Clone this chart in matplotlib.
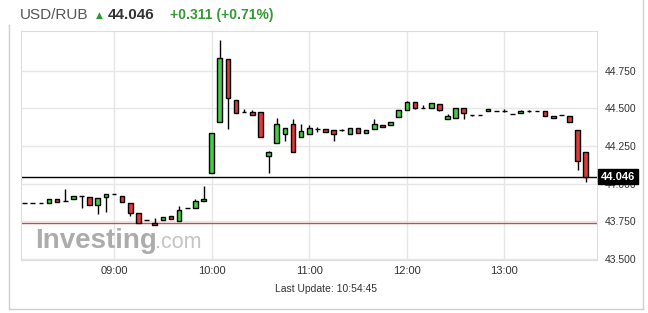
import numpy as np
import matplotlib
matplotlib.use("Agg")
import matplotlib.pyplot as plt
from matplotlib.lines import Line2D

plt.rcParams["font.family"] = ["Liberation Sans", "DejaVu Sans"]

# 5-minute candles, first one at 08:05
start_minute = -55  # minutes relative to 09:00
opens = [43.868, 43.868, 43.868, 43.870, 43.900, 43.885, 43.897, 43.919, 43.912, 43.857, 43.912,
         43.928, 43.919, 43.868, 43.801, 43.757, 43.739, 43.757, 43.784, 43.750, 43.835, 43.835, 43.884,
         44.072, 44.407, 44.825, 44.555, 44.473, 44.477, 44.477, 44.185, 44.267, 44.327, 44.394, 44.307,
         44.327, 44.360, 44.360, 44.356, 44.356, 44.330, 44.367, 44.334, 44.363, 44.391, 44.390, 44.444,
         44.489, 44.544, 44.500, 44.500, 44.527, 44.429, 44.438, 44.500, 44.455, 44.455, 44.482, 44.484,
         44.484, 44.464, 44.471, 44.482, 44.482, 44.482, 44.438, 44.455, 44.451, 44.356, 44.207]
closes = [43.868, 43.868, 43.868, 43.897, 43.877, 43.885, 43.919, 43.919, 43.857, 43.905, 43.928,
          43.928, 43.875, 43.801, 43.735, 43.757, 43.724, 43.779, 43.762, 43.824, 43.835, 43.884, 43.897,
          44.338, 44.832, 44.566, 44.467, 44.473, 44.453, 44.311, 44.210, 44.394, 44.367, 44.212, 44.350,
          44.371, 44.360, 44.340, 44.327, 44.356, 44.367, 44.334, 44.356, 44.394, 44.378, 44.407, 44.489,
          44.540, 44.504, 44.500, 44.533, 44.489, 44.449, 44.500, 44.467, 44.455, 44.455, 44.493, 44.484,
          44.484, 44.464, 44.484, 44.482, 44.482, 44.451, 44.451, 44.455, 44.411, 44.150, 44.046]
highs = [43.868, 43.868, 43.868, 43.897, 43.900, 43.963, 43.919, 43.919, 43.912, 43.905, 43.928,
         43.928, 43.919, 43.868, 43.801, 43.757, 43.772, 43.779, 43.784, 43.850, 43.835, 43.900, 43.983,
         44.338, 44.955, 44.825, 44.555, 44.495, 44.487, 44.477, 44.215, 44.434, 44.367, 44.427, 44.394,
         44.389, 44.378, 44.360, 44.356, 44.360, 44.367, 44.367, 44.356, 44.429, 44.391, 44.407, 44.489,
         44.550, 44.544, 44.520, 44.533, 44.527, 44.460, 44.500, 44.500, 44.455, 44.455, 44.493, 44.484,
         44.493, 44.464, 44.490, 44.489, 44.482, 44.482, 44.451, 44.458, 44.451, 44.356, 44.207]
lows = [43.868, 43.868, 43.868, 43.870, 43.877, 43.885, 43.897, 43.839, 43.857, 43.800, 43.808,
        43.928, 43.875, 43.785, 43.735, 43.757, 43.724, 43.757, 43.762, 43.750, 43.835, 43.835, 43.884,
        44.072, 44.407, 44.360, 44.467, 44.473, 44.453, 44.311, 44.068, 44.267, 44.283, 44.212, 44.307,
        44.327, 44.340, 44.340, 44.285, 44.350, 44.330, 44.334, 44.334, 44.363, 44.378, 44.390, 44.444,
        44.489, 44.497, 44.500, 44.500, 44.480, 44.429, 44.438, 44.429, 44.449, 44.455, 44.482, 44.484,
        44.475, 44.464, 44.471, 44.478, 44.482, 44.451, 44.438, 44.455, 44.411, 44.090, 44.008]

hour_labels = ["09:00", "10:00", "11:00", "12:00", "13:00"]
price_ticks = [43.500, 43.750, 44.000, 44.250, 44.500, 44.750]
last_price = 44.046
prev_close = 43.735

W, H = 648, 313
fig = plt.figure(figsize=(W / 100, H / 100), dpi=100)
fig.patch.set_facecolor("white")

# outer panel border (left side starts below the header)
border = "#cfcfcf"
fig.add_artist(Line2D([9 / W, 9 / W], [1 - 309 / H, 1 - 25 / H], transform=fig.transFigure,
                      color=border, lw=1))
fig.add_artist(Line2D([9 / W, 643 / W], [1 - 309 / H, 1 - 309 / H], transform=fig.transFigure,
                      color=border, lw=1))
fig.add_artist(Line2D([643 / W, 643 / W], [1 - 309 / H, 1.0], transform=fig.transFigure,
                      color=border, lw=1))

ax = fig.add_axes([21 / W, 1 - 260 / H, 575.5 / W, 229 / H])
ax.set_xlim(-57.2, 296.6)
ax.set_ylim(43.4914, 45.014)

x = start_minute + 5 * np.arange(len(opens))
o = np.array(opens)
c = np.array(closes)
up = c >= o
colors = np.where(up, "#44cc44", "#dd3a3a")

ax.vlines(x, lows, highs, color="black", lw=1, zorder=3)
ax.bar(x, np.abs(c - o), bottom=np.minimum(o, c), width=2.8, color=colors,
       edgecolor="black", linewidth=1.0, zorder=4)

ax.axhline(last_price, color="black", lw=1, zorder=2)
ax.axhline(prev_close, color="#c05050", lw=1, zorder=2)

ax.set_xticks(60 * np.arange(len(hour_labels)))
ax.set_xticklabels(hour_labels)
ax.set_yticks(price_ticks)
ax.set_yticklabels([f"{p:.3f}" for p in price_ticks])
ax.tick_params(axis="y", left=False, labelleft=False, right=False, labelright=True,
               length=0, pad=6, labelsize=7.5, labelcolor="#333333")
ax.tick_params(axis="x", length=0, pad=4, labelsize=8, labelcolor="#333333")
ax.grid(True, color="#e6e6e6", lw=1, zorder=0)
ax.set_axisbelow(True)
for s in ax.spines.values():
    s.set_color("#dddddd")

ax.annotate(f"{last_price:.3f}", xy=(1, last_price), xycoords=("axes fraction", "data"),
            xytext=(3, 0), textcoords="offset points", ha="left", va="center",
            color="white", fontsize=8, fontweight="bold", zorder=10,
            bbox=dict(boxstyle="square,pad=0.25", fc="black", ec="black"),
            annotation_clip=False)

# watermark
ax.text(35 / W, 1 - 248.5 / H, "Investing", transform=fig.transFigure, fontsize=20,
        fontweight="bold", color="#acacac", va="baseline", zorder=1)
ax.text(155 / W, 1 - 248.5 / H, ".com", transform=fig.transFigure, fontsize=15.5,
        color="#c4c4c4", va="baseline", zorder=1)

# header
fig.text(20 / W, 1 - 19 / H, "USD/RUB", fontsize=11, color="#555555", va="baseline")
fig.text(96 / W, 1 - 18 / H, "\u25b2", fontsize=6.5, color="#2e9b2e", va="baseline",
         family="DejaVu Sans")
fig.text(108 / W, 1 - 19 / H, "44.046", fontsize=11, fontweight="bold", color="#333333",
         va="baseline")
fig.text(170 / W, 1 - 19 / H, "+0.311 (+0.71%)", fontsize=10, fontweight="bold",
         color="#339933", va="baseline")

fig.text(326 / W, 1 - 289 / H, "Last Update: 10:54:45", fontsize=7.5, color="#333333",
         ha="center", va="center")

fig.savefig("out.png", dpi=100)
